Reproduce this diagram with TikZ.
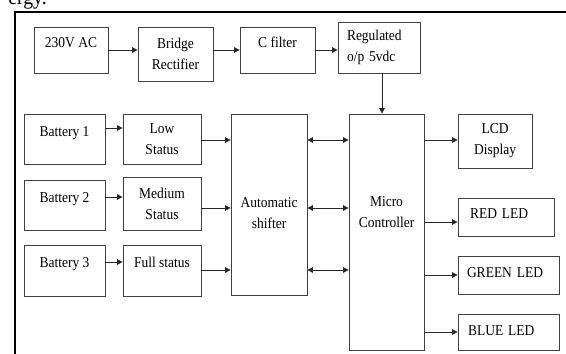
\documentclass[tikz,border=0pt]{standalone}
\usepackage{fontspec}
\setmainfont{Liberation Serif}[FakeStretch=0.9]
\usetikzlibrary{arrows.meta,positioning}

\begin{document}
\begin{tikzpicture}[x=1pt, y=-1pt,
    blk/.style={rectangle, draw=black!75, line width=0.8pt, inner sep=0pt,
      align=center, font=\fontsize{15}{21}\selectfont},
    ledbox/.style={blk, align=left},
    arr/.style={-{Triangle[length=5.5pt, width=5.5pt]}, line width=0.8pt, draw=black!85},
    biarr/.style={{Triangle[length=5.5pt, width=5.5pt]}-{Triangle[length=5.5pt, width=5.5pt]},
      line width=0.8pt, draw=black!85}
  ]
    \useasboundingbox (0,0) rectangle (566,354);
    \clip (0,0) rectangle (566,354);
    % Frame and caption fragment
    \draw[line width=2.4pt] (15,360) -- (15,12) -- (570,12);
    \node[font=\fontsize{22}{22}\selectfont, anchor=base east, inner sep=0pt] (cap) at (47,4) {ergy.};
    % Power supply chain
    \node[blk, minimum width=74pt, text height=20pt, text depth=26pt] (ac) at (71,50) {230V AC};
    \node[blk, minimum width=75pt, minimum height=54pt] (rect) at (175.5,54) {Bridge\\Rectifier};
    \node[blk, minimum width=75pt, text height=20pt, text depth=26pt] (cfil) at (277.5,50) {C filter};
    \node[blk, text width=64pt, inner xsep=9pt, minimum height=51pt, align=left] (reg) at (379,47.5)
      {Regulated\\o/p 5vdc};
    % Batteries and status
    \node[blk, minimum width=81pt, text height=22pt, text depth=28pt] (bat1) at (64.5,139) {Battery 1};
    \node[blk, minimum width=81pt, text height=22pt, text depth=28pt] (bat2) at (64.5,205) {Battery 2};
    \node[blk, minimum width=81pt, text height=22pt, text depth=29pt] (bat3) at (64.5,270.5) {Battery 3};
    \node[blk, minimum width=78pt, minimum height=50pt] (low) at (162,139) {Low\\Status};
    \node[blk, minimum width=78pt, minimum height=53pt] (med) at (162,203.5) {Medium\\Status};
    \node[blk, minimum width=78pt, text height=22pt, text depth=29pt] (full) at (162,270.5) {Full status};
    % Shifter and controller
    \node[blk, minimum width=76pt, text height=114pt, text depth=67pt] (shifter) at (269,204.5)
      {Automatic\\shifter};
    \node[blk, minimum width=75pt, text height=113pt, text depth=123pt] (mcu) at (386.5,232)
      {Micro\\Controller};
    % Outputs
    \node[blk, minimum width=74pt, minimum height=54pt] (lcd) at (495,141) {LCD\\Display};
    \node[ledbox, text width=72pt, inner xsep=12pt, text height=20pt, text depth=18pt] (red) at (506,217) {RED LED};
    \node[ledbox, text width=83pt, inner xsep=9pt, text height=21pt, text depth=17pt] (green) at (508.5,275) {GREEN LED};
    \node[ledbox, text width=81pt, inner xsep=10pt, text height=21pt, text depth=15pt] (blue) at (508.5,332) {BLUE LED};
    % Rows of the shifter links
    \coordinate (row1) at (0,140);
    \coordinate (row2) at (0,208);
    \coordinate (row3) at (0,270);
    % Arrows
    \draw[arr] (ac.east) -- (rect.west |- ac.east);
    \draw[arr] (rect.east |- cfil.west) -- (cfil.west);
    \draw[arr] (cfil.east) -- (reg.west |- cfil.east);
    \draw[arr] ([xshift=3pt]reg.south) -- ([xshift=3pt]reg.south |- mcu.north);
    \draw[arr] ([yshift=11pt]bat1.east) -- ([yshift=11pt]bat1.east -| low.west);
    \draw[arr] ([yshift=8pt]bat2.east) -- ([yshift=8pt]bat2.east -| med.west);
    \draw[arr] ([yshift=8.5pt]bat3.east) -- ([yshift=8.5pt]bat3.east -| full.west);
    \draw[arr] (low.east |- row1) -- (shifter.west |- row1);
    \draw[arr] (med.east |- row2) -- (shifter.west |- row2);
    \draw[arr] (full.east |- row3) -- (shifter.west |- row3);
    \draw[biarr] (shifter.east |- row1) -- (mcu.west |- row1);
    \draw[biarr] (shifter.east |- row2) -- (mcu.west |- row2);
    \draw[biarr] (shifter.east |- row3) -- (mcu.west |- row3);
    \draw[arr] (mcu.east |- row1) -- (lcd.west |- row1);
    \draw[arr] ([yshift=-5pt]red.west -| mcu.east) -- ([yshift=-5pt]red.west);
    \draw[arr] (green.west -| mcu.east) -- (green.west);
    \draw[arr] (blue.west -| mcu.east) -- (blue.west);
  \end{tikzpicture}
\end{document}
